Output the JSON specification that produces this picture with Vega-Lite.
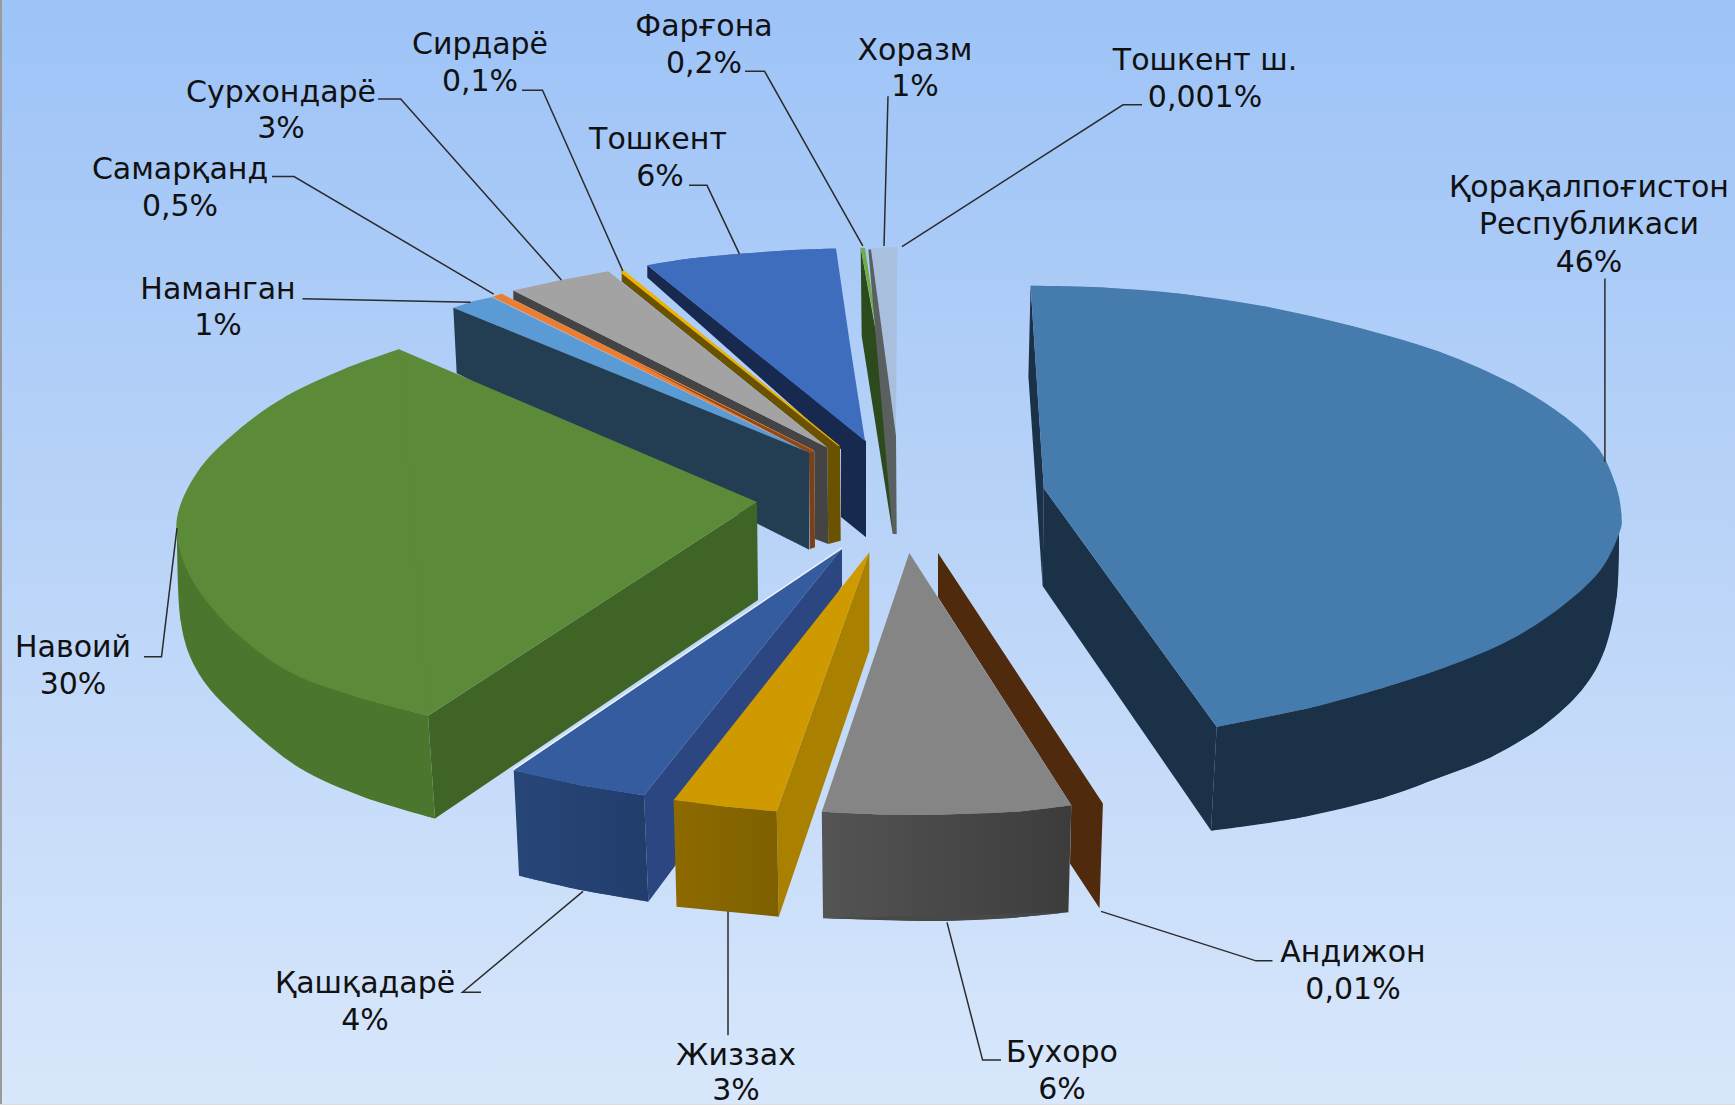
{"$schema":"https://vega.github.io/schema/vega-lite/v6.json","width":1735,"height":1106,"autosize":{"type":"fit","contains":"padding"},"padding":0,"background":"#ffffff",
"resolve":{"scale":{"fill":"independent"}},
"encoding":{"x":{"field":"x","type":"quantitative","axis":null,"scale":{"domain":[0,1735],"nice":false,"zero":false}},"y":{"field":"y","type":"quantitative","axis":null,"scale":{"domain":[1106,0],"nice":false,"zero":false}}},
"datasets":{"polys":[
{"s":"tosh_side","i":1,"x":647.3,"y":265.7},{"s":"tosh_side","i":2,"x":866,"y":441.7},{"s":"tosh_side","i":3,"x":866,"y":538.3},{"s":"tosh_side","i":4,"x":841,"y":518},{"s":"tosh_side","i":5,"x":841,"y":450},{"s":"tosh_side","i":6,"x":647.3,"y":278},
{"s":"tosh_top","i":1,"x":647.3,"y":265.7},{"s":"tosh_top","i":2,"x":690,"y":259},{"s":"tosh_top","i":3,"x":740,"y":254.3},{"s":"tosh_top","i":4,"x":793.3,"y":250.5},{"s":"tosh_top","i":5,"x":836,"y":249},{"s":"tosh_top","i":6,"x":850,"y":345},{"s":"tosh_top","i":7,"x":865,"y":441.7},
{"s":"sir_side","i":1,"x":621.7,"y":270},{"s":"sir_side","i":2,"x":840,"y":446.7},{"s":"sir_side","i":3,"x":840.7,"y":541.7},{"s":"sir_side","i":4,"x":828.3,"y":545},{"s":"sir_side","i":5,"x":827.3,"y":448.3},{"s":"sir_side","i":6,"x":621.7,"y":282},
{"s":"sir_top","i":1,"x":621.7,"y":269.3},{"s":"sir_top","i":2,"x":840,"y":446.7},{"s":"sir_top","i":3,"x":838,"y":446.5},{"s":"sir_top","i":4,"x":621.7,"y":274},
{"s":"sur_side","i":1,"x":513.3,"y":291},{"s":"sur_side","i":2,"x":827.3,"y":448.3},{"s":"sur_side","i":3,"x":828.3,"y":545},{"s":"sur_side","i":4,"x":815,"y":540},{"s":"sur_side","i":5,"x":814.3,"y":451.7},{"s":"sur_side","i":6,"x":513.3,"y":300},
{"s":"sur_top","i":1,"x":513.3,"y":291},{"s":"sur_top","i":2,"x":560,"y":280.7},{"s":"sur_top","i":3,"x":608.3,"y":271.7},{"s":"sur_top","i":4,"x":827.3,"y":448.3},
{"s":"nam_top","i":1,"x":453.3,"y":308.3},{"s":"nam_top","i":2,"x":474,"y":301.5},{"s":"nam_top","i":3,"x":491.7,"y":297.7},{"s":"nam_top","i":4,"x":809.3,"y":453.3},
{"s":"sam_side","i":1,"x":809,"y":453},{"s":"sam_side","i":2,"x":814.3,"y":451.7},{"s":"sam_side","i":3,"x":815,"y":548.3},{"s":"sam_side","i":4,"x":810,"y":550},
{"s":"sam_top","i":1,"x":492.3,"y":297.3},{"s":"sam_top","i":2,"x":501.7,"y":294.3},{"s":"sam_top","i":3,"x":814,"y":451},{"s":"sam_top","i":4,"x":809,"y":453},
{"s":"sam_strip","i":1,"x":633.3,"y":361.7},{"s":"sam_strip","i":2,"x":814.3,"y":451.7},{"s":"sam_strip","i":3,"x":808.3,"y":453.3},
{"s":"nam_side","i":1,"x":453.3,"y":308.3},{"s":"nam_side","i":2,"x":809.3,"y":453.3},{"s":"nam_side","i":3,"x":809.3,"y":550.7},{"s":"nam_side","i":4,"x":456.7,"y":374},
{"s":"far_side","i":1,"x":860.7,"y":248.3},{"s":"far_side","i":2,"x":861.7,"y":336.7},{"s":"far_side","i":3,"x":892.7,"y":535},{"s":"far_side","i":4,"x":894.7,"y":436.7},
{"s":"far_top","i":1,"x":860.7,"y":248.3},{"s":"far_top","i":2,"x":865,"y":248.3},{"s":"far_top","i":3,"x":893.5,"y":436},{"s":"far_top","i":4,"x":878,"y":340},
{"s":"tsh_top","i":1,"x":869.3,"y":249},{"s":"tsh_top","i":2,"x":897.3,"y":247.3},{"s":"tsh_top","i":3,"x":896,"y":436.7},
{"s":"tsh_side","i":1,"x":868.3,"y":250},{"s":"tsh_side","i":2,"x":871,"y":250},{"s":"tsh_side","i":3,"x":896,"y":436.7},{"s":"tsh_side","i":4,"x":896.7,"y":535},{"s":"tsh_side","i":5,"x":892.7,"y":535},
{"s":"qor_sliver","i":1,"x":1030.6,"y":286.3},{"s":"qor_sliver","i":2,"x":1043.8,"y":489.2},{"s":"qor_sliver","i":3,"x":1042.6,"y":587},{"s":"qor_sliver","i":4,"x":1028.4,"y":377},
{"s":"qor_cut","i":1,"x":1043.8,"y":489.2},{"s":"qor_cut","i":2,"x":1216.7,"y":728},{"s":"qor_cut","i":3,"x":1211,"y":832},{"s":"qor_cut","i":4,"x":1042.6,"y":587},
{"s":"qor_top","i":1,"x":1030.6,"y":286.3},{"s":"qor_top","i":2,"x":1102.6,"y":288},{"s":"qor_top","i":3,"x":1182.5,"y":294.5},{"s":"qor_top","i":4,"x":1268,"y":307.6},{"s":"qor_top","i":5,"x":1353.7,"y":327},{"s":"qor_top","i":6,"x":1439.3,"y":352.4},{"s":"qor_top","i":7,"x":1513.5,"y":385},{"s":"qor_top","i":8,"x":1565,"y":417.8},{"s":"qor_top","i":9,"x":1599,"y":450.4},{"s":"qor_top","i":10,"x":1616,"y":487},{"s":"qor_top","i":11,"x":1621.4,"y":515.7},{"s":"qor_top","i":12,"x":1619,"y":535},{"s":"qor_top","i":13,"x":1599.2,"y":572.9},{"s":"qor_top","i":14,"x":1559.2,"y":609.6},{"s":"qor_top","i":15,"x":1507.8,"y":642.2},{"s":"qor_top","i":16,"x":1445,"y":668.8},{"s":"qor_top","i":17,"x":1382.3,"y":689.2},{"s":"qor_top","i":18,"x":1308,"y":709.6},{"s":"qor_top","i":19,"x":1216.7,"y":728},{"s":"qor_top","i":20,"x":1043.8,"y":489.2},
{"s":"and_side","i":1,"x":938,"y":554},{"s":"and_side","i":2,"x":1102.9,"y":805},{"s":"and_side","i":3,"x":1099.5,"y":910},{"s":"and_side","i":4,"x":1070,"y":865},{"s":"and_side","i":5,"x":1071.3,"y":806.7},{"s":"and_side","i":6,"x":938,"y":598.3},
{"s":"buk_top","i":1,"x":909.3,"y":554},{"s":"buk_top","i":2,"x":1071.3,"y":806.7},{"s":"buk_top","i":3,"x":1014.5,"y":813.3},{"s":"buk_top","i":4,"x":943,"y":816},{"s":"buk_top","i":5,"x":880,"y":816},{"s":"buk_top","i":6,"x":821.8,"y":813.3},
{"s":"qas_side","i":1,"x":842,"y":549.3},{"s":"qas_side","i":2,"x":842,"y":586.7},{"s":"qas_side","i":3,"x":674.4,"y":868.3},{"s":"qas_side","i":4,"x":648.4,"y":903.3},{"s":"qas_side","i":5,"x":644,"y":796.7},
{"s":"qas_top","i":1,"x":842,"y":549.3},{"s":"qas_top","i":2,"x":644,"y":796.7},{"s":"qas_top","i":3,"x":581,"y":786.7},{"s":"qas_top","i":4,"x":513.7,"y":771.7},
{"s":"jiz_side","i":1,"x":869.3,"y":553.3},{"s":"jiz_side","i":2,"x":869.3,"y":651.7},{"s":"jiz_side","i":3,"x":778.8,"y":918.3},{"s":"jiz_side","i":4,"x":776.7,"y":812.7},
{"s":"jiz_top","i":1,"x":869.3,"y":553.3},{"s":"jiz_top","i":2,"x":776.7,"y":812.7},{"s":"jiz_top","i":3,"x":728.3,"y":808.3},{"s":"jiz_top","i":4,"x":673.6,"y":801.7},
{"s":"nav_cut","i":1,"x":757,"y":503},{"s":"nav_cut","i":2,"x":758,"y":601},{"s":"nav_cut","i":3,"x":435,"y":820},{"s":"nav_cut","i":4,"x":428,"y":717},
{"s":"nav_top","i":1,"x":399,"y":350},{"s":"nav_top","i":2,"x":344.4,"y":369.6},{"s":"nav_top","i":3,"x":287,"y":396.4},{"s":"nav_top","i":4,"x":241,"y":428.6},{"s":"nav_top","i":5,"x":201,"y":467.9},{"s":"nav_top","i":6,"x":178,"y":514},{"s":"nav_top","i":7,"x":180.4,"y":553},{"s":"nav_top","i":8,"x":199,"y":592},{"s":"nav_top","i":9,"x":238,"y":636},{"s":"nav_top","i":10,"x":293,"y":675},{"s":"nav_top","i":11,"x":360,"y":699},{"s":"nav_top","i":12,"x":428,"y":717},{"s":"nav_top","i":13,"x":757,"y":503}
],
"grad":[
{"s":"nav_out","i":1,"x":178,"y":514},{"s":"nav_out","i":2,"x":180.4,"y":553},{"s":"nav_out","i":3,"x":199,"y":592},{"s":"nav_out","i":4,"x":238,"y":636},{"s":"nav_out","i":5,"x":293,"y":675},{"s":"nav_out","i":6,"x":360,"y":699},{"s":"nav_out","i":7,"x":428,"y":717},{"s":"nav_out","i":8,"x":435,"y":820},{"s":"nav_out","i":9,"x":365,"y":799},{"s":"nav_out","i":10,"x":299,"y":769},{"s":"nav_out","i":11,"x":238,"y":719},{"s":"nav_out","i":12,"x":199,"y":675},{"s":"nav_out","i":13,"x":180.4,"y":620},
{"s":"qor_out","i":1,"x":1216.7,"y":728},{"s":"qor_out","i":2,"x":1308,"y":709.6},{"s":"qor_out","i":3,"x":1382.3,"y":689.2},{"s":"qor_out","i":4,"x":1445,"y":668.8},{"s":"qor_out","i":5,"x":1507.8,"y":642.2},{"s":"qor_out","i":6,"x":1559.2,"y":609.6},{"s":"qor_out","i":7,"x":1599.2,"y":572.9},{"s":"qor_out","i":8,"x":1619,"y":535},{"s":"qor_out","i":9,"x":1617,"y":595},{"s":"qor_out","i":10,"x":1604.9,"y":650.4},{"s":"qor_out","i":11,"x":1582,"y":691},{"s":"qor_out","i":12,"x":1542,"y":728},{"s":"qor_out","i":13,"x":1490.7,"y":758.6},{"s":"qor_out","i":14,"x":1439.3,"y":779},{"s":"qor_out","i":15,"x":1382.3,"y":799.4},{"s":"qor_out","i":16,"x":1296.6,"y":819.8},{"s":"qor_out","i":17,"x":1211,"y":832},
{"s":"buk_out","i":1,"x":821.8,"y":813.3},{"s":"buk_out","i":2,"x":880,"y":816},{"s":"buk_out","i":3,"x":943,"y":816},{"s":"buk_out","i":4,"x":1014.5,"y":813.3},{"s":"buk_out","i":5,"x":1071.3,"y":806.7},{"s":"buk_out","i":6,"x":1068.4,"y":914},{"s":"buk_out","i":7,"x":1006,"y":920},{"s":"buk_out","i":8,"x":943,"y":922.7},{"s":"buk_out","i":9,"x":879.8,"y":921.7},{"s":"buk_out","i":10,"x":823,"y":920},
{"s":"jiz_out","i":1,"x":673.6,"y":801.7},{"s":"jiz_out","i":2,"x":728.3,"y":808.3},{"s":"jiz_out","i":3,"x":776.7,"y":812.7},{"s":"jiz_out","i":4,"x":778.8,"y":918.3},{"s":"jiz_out","i":5,"x":728.3,"y":913.3},{"s":"jiz_out","i":6,"x":676.5,"y":908.3},
{"s":"qas_out","i":1,"x":513.7,"y":771.7},{"s":"qas_out","i":2,"x":581,"y":786.7},{"s":"qas_out","i":3,"x":644,"y":796.7},{"s":"qas_out","i":4,"x":648.4,"y":903.3},{"s":"qas_out","i":5,"x":581,"y":891.7},{"s":"qas_out","i":6,"x":519,"y":877.3}
],
"caps":[
{"s":"a_nav_b","i":1,"x":177,"y":520},{"s":"a_nav_b","i":2,"x":180.4,"y":620},{"s":"a_nav_b","i":3,"x":199,"y":675},{"s":"a_nav_b","i":4,"x":238,"y":719},{"s":"a_nav_b","i":5,"x":299,"y":769},{"s":"a_nav_b","i":6,"x":365,"y":799},{"s":"a_nav_b","i":7,"x":435,"y":820},
{"s":"b_nav_t","i":1,"x":399,"y":350},{"s":"b_nav_t","i":2,"x":344.4,"y":369.6},{"s":"b_nav_t","i":3,"x":287,"y":396.4},{"s":"b_nav_t","i":4,"x":241,"y":428.6},{"s":"b_nav_t","i":5,"x":201,"y":467.9},{"s":"b_nav_t","i":6,"x":178,"y":514},{"s":"b_nav_t","i":7,"x":180.4,"y":553},{"s":"b_nav_t","i":8,"x":199,"y":592},{"s":"b_nav_t","i":9,"x":238,"y":636},{"s":"b_nav_t","i":10,"x":293,"y":675},{"s":"b_nav_t","i":11,"x":360,"y":699},{"s":"b_nav_t","i":12,"x":428,"y":717},
{"s":"c_qor_b","i":1,"x":1619,"y":535},{"s":"c_qor_b","i":2,"x":1617,"y":595},{"s":"c_qor_b","i":3,"x":1604.9,"y":650.4},{"s":"c_qor_b","i":4,"x":1582,"y":691},{"s":"c_qor_b","i":5,"x":1542,"y":728},{"s":"c_qor_b","i":6,"x":1490.7,"y":758.6},{"s":"c_qor_b","i":7,"x":1439.3,"y":779},{"s":"c_qor_b","i":8,"x":1382.3,"y":799.4},{"s":"c_qor_b","i":9,"x":1296.6,"y":819.8},{"s":"c_qor_b","i":10,"x":1211,"y":832},
{"s":"d_qor_t","i":1,"x":1030.6,"y":286.3},{"s":"d_qor_t","i":2,"x":1102.6,"y":288},{"s":"d_qor_t","i":3,"x":1182.5,"y":294.5},{"s":"d_qor_t","i":4,"x":1268,"y":307.6},{"s":"d_qor_t","i":5,"x":1353.7,"y":327},{"s":"d_qor_t","i":6,"x":1439.3,"y":352.4},{"s":"d_qor_t","i":7,"x":1513.5,"y":385},{"s":"d_qor_t","i":8,"x":1565,"y":417.8},{"s":"d_qor_t","i":9,"x":1599,"y":450.4},{"s":"d_qor_t","i":10,"x":1616,"y":487},{"s":"d_qor_t","i":11,"x":1621.4,"y":515.7},{"s":"d_qor_t","i":12,"x":1619,"y":535},{"s":"d_qor_t","i":13,"x":1599.2,"y":572.9},{"s":"d_qor_t","i":14,"x":1559.2,"y":609.6},{"s":"d_qor_t","i":15,"x":1507.8,"y":642.2},{"s":"d_qor_t","i":16,"x":1445,"y":668.8},{"s":"d_qor_t","i":17,"x":1382.3,"y":689.2},{"s":"d_qor_t","i":18,"x":1308,"y":709.6},{"s":"d_qor_t","i":19,"x":1216.7,"y":728},
{"s":"e_buk_b","i":1,"x":823,"y":920},{"s":"e_buk_b","i":2,"x":879.8,"y":921.7},{"s":"e_buk_b","i":3,"x":943,"y":922.7},{"s":"e_buk_b","i":4,"x":1006,"y":920},{"s":"e_buk_b","i":5,"x":1068.4,"y":914},
{"s":"f_buk_t","i":1,"x":821.8,"y":813.3},{"s":"f_buk_t","i":2,"x":880,"y":816},{"s":"f_buk_t","i":3,"x":943,"y":816},{"s":"f_buk_t","i":4,"x":1014.5,"y":813.3},{"s":"f_buk_t","i":5,"x":1071.3,"y":806.7},
{"s":"g_tos_t","i":1,"x":647.3,"y":265.7},{"s":"g_tos_t","i":2,"x":690,"y":259},{"s":"g_tos_t","i":3,"x":740,"y":254.3},{"s":"g_tos_t","i":4,"x":793.3,"y":250.5},{"s":"g_tos_t","i":5,"x":836,"y":249},
{"s":"h_qas_b","i":1,"x":519,"y":877.3},{"s":"h_qas_b","i":2,"x":581,"y":891.7},{"s":"h_qas_b","i":3,"x":648.4,"y":903.3},
{"s":"i_qas_t","i":1,"x":513.7,"y":771.7},{"s":"i_qas_t","i":2,"x":581,"y":786.7},{"s":"i_qas_t","i":3,"x":644,"y":796.7},
{"s":"j_jiz_t","i":1,"x":673.6,"y":801.7},{"s":"j_jiz_t","i":2,"x":728.3,"y":808.3},{"s":"j_jiz_t","i":3,"x":776.7,"y":812.7}
],
"leaders":[
{"l":"sur","i":1,"x":378,"y":99.3},{"l":"sur","i":2,"x":400.7,"y":99.3},{"l":"sur","i":3,"x":561.4,"y":280.4},
{"l":"sir","i":1,"x":522,"y":90.4},{"l":"sir","i":2,"x":542.5,"y":90.4},{"l":"sir","i":3,"x":622.8,"y":271.4},
{"l":"far","i":1,"x":745,"y":71.4},{"l":"far","i":2,"x":764.6,"y":71.4},{"l":"far","i":3,"x":862.8,"y":246.4},
{"l":"xor","i":1,"x":888,"y":96.4},{"l":"xor","i":2,"x":884,"y":246.4},
{"l":"tos","i":1,"x":689,"y":185.7},{"l":"tos","i":2,"x":707,"y":185.7},{"l":"tos","i":3,"x":739.4,"y":254.3},
{"l":"sam","i":1,"x":272,"y":176.8},{"l":"sam","i":2,"x":294,"y":176.8},{"l":"sam","i":3,"x":493.7,"y":294.6},
{"l":"nam","i":1,"x":302.5,"y":299.3},{"l":"nam","i":2,"x":470.7,"y":302.9},
{"l":"nav","i":1,"x":144,"y":658},{"l":"nav","i":2,"x":161.5,"y":658},{"l":"nav","i":3,"x":177,"y":529},
{"l":"tsh","i":1,"x":1142,"y":105},{"l":"tsh","i":2,"x":1123,"y":105},{"l":"tsh","i":3,"x":902,"y":247},
{"l":"qor","i":1,"x":1604.9,"y":279},{"l":"qor","i":2,"x":1604.9,"y":462.7},
{"l":"qas","i":1,"x":481,"y":994},{"l":"qas","i":2,"x":462.5,"y":994},{"l":"qas","i":3,"x":583,"y":893},
{"l":"jiz","i":1,"x":728,"y":1037},{"l":"jiz","i":2,"x":728,"y":913},
{"l":"buk","i":1,"x":1001,"y":1062},{"l":"buk","i":2,"x":982.6,"y":1062},{"l":"buk","i":3,"x":947,"y":924},
{"l":"and","i":1,"x":1272.5,"y":962.6},{"l":"and","i":2,"x":1256,"y":962.6},{"l":"and","i":3,"x":1101,"y":913}
],
"labels":[
{"t":"Фарғона","x":704,"y":25},{"t":"0,2%","x":704,"y":62},
{"t":"Сирдарё","x":480,"y":43},{"t":"0,1%","x":480,"y":80},
{"t":"Сурхондарё","x":281,"y":91},{"t":"3%","x":281,"y":127},
{"t":"Самарқанд","x":180,"y":168},{"t":"0,5%","x":180,"y":205},
{"t":"Тошкент","x":658,"y":138},{"t":"6%","x":660,"y":175},
{"t":"Хоразм","x":915,"y":49},{"t":"1%","x":915,"y":85},
{"t":"Тошкент ш.","x":1205,"y":59},{"t":"0,001%","x":1205,"y":96},
{"t":"Қорақалпоғистон","x":1589,"y":186},{"t":"Республикаси","x":1589,"y":223.5},{"t":"46%","x":1589,"y":261},
{"t":"Наманган","x":218,"y":289},{"t":"1%","x":218,"y":325},
{"t":"Навоий","x":73,"y":647},{"t":"30%","x":73,"y":684},
{"t":"Қашқадарё","x":365,"y":984},{"t":"4%","x":365,"y":1021},
{"t":"Жиззах","x":736,"y":1056},{"t":"3%","x":736,"y":1091},
{"t":"Бухоро","x":1062,"y":1053},{"t":"6%","x":1062,"y":1090},
{"t":"Андижон","x":1353,"y":953},{"t":"0,01%","x":1353,"y":990}
],
"frame":[{"x":0,"y":0,"x2":1735,"y2":1106}],
"halo":[{"i":1,"x":842,"y":549},{"i":2,"x":513,"y":771}],
"edge":[{"x":0,"y":0,"x2":2,"y2":1106}]},
"layer":[
{"data":{"name":"frame"},"mark":{"type":"rect","fill":{"gradient":"linear","x1":0,"y1":0,"x2":0,"y2":1,"stops":[{"offset":0,"color":"#9DC3F7"},{"offset":0.5,"color":"#BAD4F8"},{"offset":1,"color":"#D8E7FB"}]}},"encoding":{"x2":{"field":"x2"},"y2":{"field":"y2"}}},
{"data":{"name":"edge"},"mark":{"type":"rect","fill":"#9A9A9A"},"encoding":{"x2":{"field":"x2"},"y2":{"field":"y2"}}},
{"data":{"name":"polys"},"mark":{"type":"line","filled":true,"strokeWidth":0},"encoding":{"order":{"field":"i","type":"quantitative"},"fill":{"field":"s","type":"nominal","legend":null,"sort":null,"scale":{
"domain":["tosh_side","tosh_top","sir_side","sir_top","sur_side","sur_top","nam_top","sam_side","sam_top","sam_strip","nam_side","far_side","far_top","tsh_top","tsh_side","qor_sliver","qor_cut","qor_top","and_side","buk_top","qas_side","qas_top","jiz_side","jiz_top","nav_cut","nav_top"],
"range":["#17294F","#3F6DBD","#6B5200","#F0B400","#444444","#A3A3A3","#5B9BD5","#7A4018","#ED7D31","#8A4A1C","#233D52","#2D4A1C","#70AD47","#A9BFDE","#5A6060","#1B3148","#1B3148","#467CAD","#4F2A0C","#858585","#2B4680","#355C9F","#AA8000","#CF9A00","#3F6426","#5B8A39"]}}}},
{"data":{"name":"grad"},"transform":[{"filter":"datum.s=='nav_out'"}],"mark":{"type":"line","filled":true,"strokeWidth":0,"fill":"#4A772D"},"encoding":{"order":{"field":"i","type":"quantitative"}}},
{"data":{"name":"grad"},"transform":[{"filter":"datum.s=='qor_out'"}],"mark":{"type":"line","filled":true,"strokeWidth":0,"fill":"#1B3148"},"encoding":{"order":{"field":"i","type":"quantitative"}}},
{"data":{"name":"grad"},"transform":[{"filter":"datum.s=='buk_out'"}],"mark":{"type":"line","filled":true,"strokeWidth":0,"fill":{"gradient":"linear","x1":0,"y1":0,"x2":1,"y2":0,"stops":[{"offset":0,"color":"#545454"},{"offset":1,"color":"#3C3C3C"}]}},"encoding":{"order":{"field":"i","type":"quantitative"}}},
{"data":{"name":"grad"},"transform":[{"filter":"datum.s=='jiz_out'"}],"mark":{"type":"line","filled":true,"strokeWidth":0,"fill":{"gradient":"linear","x1":0,"y1":0,"x2":1,"y2":0,"stops":[{"offset":0,"color":"#8E6B00"},{"offset":1,"color":"#7E6000"}]}},"encoding":{"order":{"field":"i","type":"quantitative"}}},
{"data":{"name":"grad"},"transform":[{"filter":"datum.s=='qas_out'"}],"mark":{"type":"line","filled":true,"strokeWidth":0,"fill":{"gradient":"linear","x1":0,"y1":0,"x2":1,"y2":0,"stops":[{"offset":0,"color":"#274678"},{"offset":1,"color":"#223D6C"}]}},"encoding":{"order":{"field":"i","type":"quantitative"}}},
{"data":{"name":"caps"},"mark":{"type":"line","filled":true,"strokeWidth":0,"interpolate":"cardinal"},"encoding":{"order":{"field":"i","type":"quantitative"},"fill":{"field":"s","type":"nominal","legend":null,"sort":null,"scale":{
"domain":["a_nav_b","b_nav_t","c_qor_b","d_qor_t","e_buk_b","f_buk_t","g_tos_t","h_qas_b","i_qas_t","j_jiz_t"],
"range":["#4A772D","#5B8A39","#1B3148","#467CAD","#484848","#858585","#3F6DBD","#254274","#355C9F","#CF9A00"]}}}},
{"data":{"name":"halo"},"mark":{"type":"line","stroke":"#EAF2FD","strokeWidth":1.5},"encoding":{"order":{"field":"i","type":"quantitative"}}},
{"data":{"name":"leaders"},"mark":{"type":"line","stroke":"#2B2B2B","strokeWidth":1.5},"encoding":{"detail":{"field":"l"},"order":{"field":"i","type":"quantitative"}}},
{"data":{"name":"labels"},"mark":{"type":"text","font":"DejaVu Sans","fontSize":30,"fill":"#111111","align":"center","baseline":"middle","dy":2},"encoding":{"text":{"field":"t"}}}
]}
